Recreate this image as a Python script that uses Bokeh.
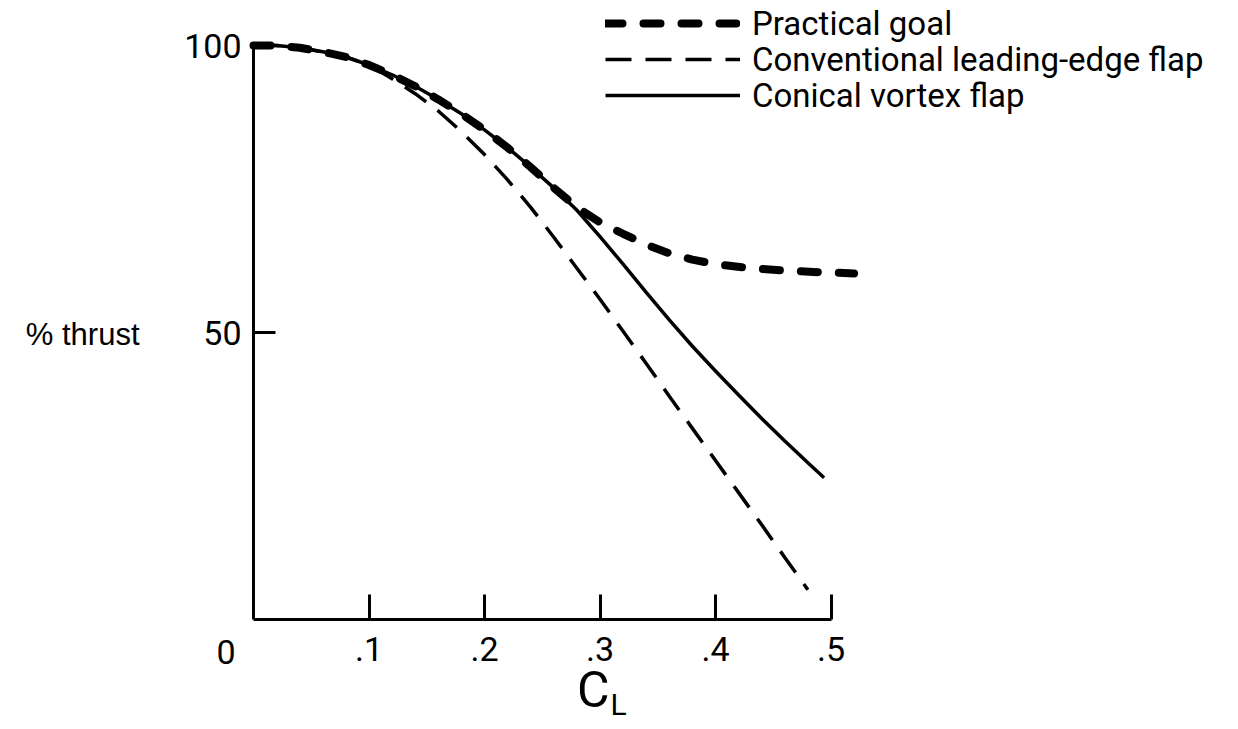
from bokeh.plotting import figure
from bokeh.models import (Range1d, FixedTicker, CustomJSTickFormatter, Legend, LegendItem,
                          Label, LinearAxis)
from bokeh.embed import file_html
from bokeh.resources import INLINE

# ---- data ----
practical_x = [0.0, 0.02, 0.04, 0.06, 0.08, 0.10, 0.12, 0.14, 0.16, 0.18, 0.20, 0.22, 0.24, 0.26,
               0.28, 0.30, 0.32, 0.34, 0.36, 0.38, 0.40, 0.43, 0.46, 0.49, 0.52]
practical_y = [100.0, 100.0, 99.6, 98.9, 98.0, 96.6, 94.9, 92.9, 90.6, 88.1, 85.3, 82.2, 78.8, 75.2,
               71.8, 69.2, 67.2, 65.3, 63.8, 62.7, 61.9, 61.2, 60.8, 60.5, 60.3]

conventional_x = [0.0, 0.02, 0.04, 0.06, 0.08, 0.10, 0.12, 0.14, 0.16, 0.18, 0.20, 0.22, 0.24, 0.26,
                  0.28, 0.30, 0.32, 0.34, 0.36, 0.38, 0.40, 0.42, 0.44, 0.46, 0.48]
conventional_y = [100.0, 100.0, 99.6, 98.9, 98.0, 96.6, 94.2, 91.6, 88.6, 85.0, 81.0, 76.6, 71.8, 66.6,
                  61.2, 55.8, 50.2, 44.6, 38.9, 33.3, 27.7, 22.1, 16.5, 10.8, 5.2]

conical_x = [0.0, 0.02, 0.04, 0.06, 0.08, 0.10, 0.12, 0.14, 0.16, 0.18, 0.20, 0.22, 0.24, 0.26,
             0.28, 0.30, 0.32, 0.34, 0.36, 0.38, 0.40, 0.42, 0.44, 0.46, 0.48, 0.494]
conical_y = [100.0, 100.0, 99.6, 98.9, 98.0, 96.6, 94.9, 92.9, 90.6, 88.1, 85.3, 82.2, 78.8, 75.2,
             71.3, 66.7, 61.9, 57.0, 52.2, 47.6, 43.3, 39.1, 35.0, 31.1, 27.3, 24.7]

x_ticks = [0.1, 0.2, 0.3, 0.4, 0.5]
y_ticks = [50, 100]
series_labels = ["Practical goal", "Conventional leading-edge flap", "Conical vortex flap"]
x_title = "C"
x_title_sub = "L"
y_title = "% thrust"
origin_label = "0"

FONT = "Roboto"
SANS = "'Liberation Sans', sans-serif"

W, H = 1222, 726
X0_PX, Y0_PX = 253, 619          # pixel position of the data origin
PX_PER_X, PX_PER_Y = 1155.0, 5.74


def dx(px):
    return (px - X0_PX) / PX_PER_X


def dy(py):
    return (Y0_PX - py) / PX_PER_Y


p = figure(width=W, height=H, output_backend="svg", toolbar_location=None,
           x_range=Range1d(dx(0), dx(W)), y_range=Range1d(dy(H), dy(0)),
           x_axis_location=None, y_axis_location=None, min_border=0)
p.outline_line_color = None
p.grid.visible = False
p.background_fill_color = "white"
p.border_fill_color = "white"

xaxis = LinearAxis(fixed_location=0, ticker=FixedTicker(ticks=x_ticks),
                   formatter=CustomJSTickFormatter(code="return tick.toFixed(1).replace(/^0/, '');"),
                   bounds=(0, 0.5), major_tick_in=25, major_tick_out=0,
                   major_label_standoff=17)
yaxis = LinearAxis(fixed_location=0, ticker=FixedTicker(ticks=y_ticks),
                   bounds=(0, 100), major_tick_in=22, major_tick_out=0,
                   major_label_standoff=12)
for ax in (xaxis, yaxis):
    ax.minor_tick_line_color = None
    ax.axis_line_width = 3
    ax.axis_line_color = "black"
    ax.major_tick_line_width = 3
    ax.major_tick_line_color = "black"
    ax.major_label_text_font = FONT
    ax.major_label_text_font_size = "34px"
    ax.major_label_text_color = "black"
p.add_layout(xaxis, "below")
p.add_layout(yaxis, "left")

# curves
r_prac = p.line(practical_x, practical_y, line_color="black", line_width=8,
                line_dash="17 21", line_cap="round")
r_conv = p.line(conventional_x, conventional_y, line_color="black", line_width=3.5,
                line_dash="26 14")
r_coni = p.line(conical_x, conical_y, line_color="black", line_width=3.5)

# one legend per row, so that each row sits where the reference has it
ROW_H = 40
for label, rend, row_center in zip(series_labels, [r_prac, r_conv, r_coni], [23, 59, 95]):
    leg = Legend(items=[LegendItem(label=label, renderers=[rend])],
                 location=(605, H - row_center - ROW_H // 2), orientation="vertical",
                 glyph_width=135, glyph_height=ROW_H, label_height=ROW_H, spacing=0,
                 padding=0, margin=0, label_standoff=12,
                 label_text_font=FONT, label_text_font_size="33px",
                 label_text_color="black", label_text_baseline="middle",
                 border_line_color=None, background_fill_alpha=0)
    p.add_layout(leg, "center")

# text annotations
p.add_layout(Label(x=dx(235), y=dy(651), text=origin_label,
                   text_align="right", text_baseline="middle",
                   text_font=FONT, text_font_size="34px", text_color="black"))
p.add_layout(Label(x=dx(139), y=dy(334), text=y_title,
                   text_align="right", text_baseline="middle",
                   text_font=SANS, text_font_size="31px", text_color="black"))
p.add_layout(Label(x=dx(609), y=dy(689), text=x_title,
                   text_align="right", text_baseline="middle",
                   text_font=FONT, text_font_size="50px", text_color="black"))
p.add_layout(Label(x=dx(610), y=dy(704), text=x_title_sub,
                   text_align="left", text_baseline="middle",
                   text_font=FONT, text_font_size="30px", text_color="black"))

open("out.html", "w").write(file_html(p, INLINE))
